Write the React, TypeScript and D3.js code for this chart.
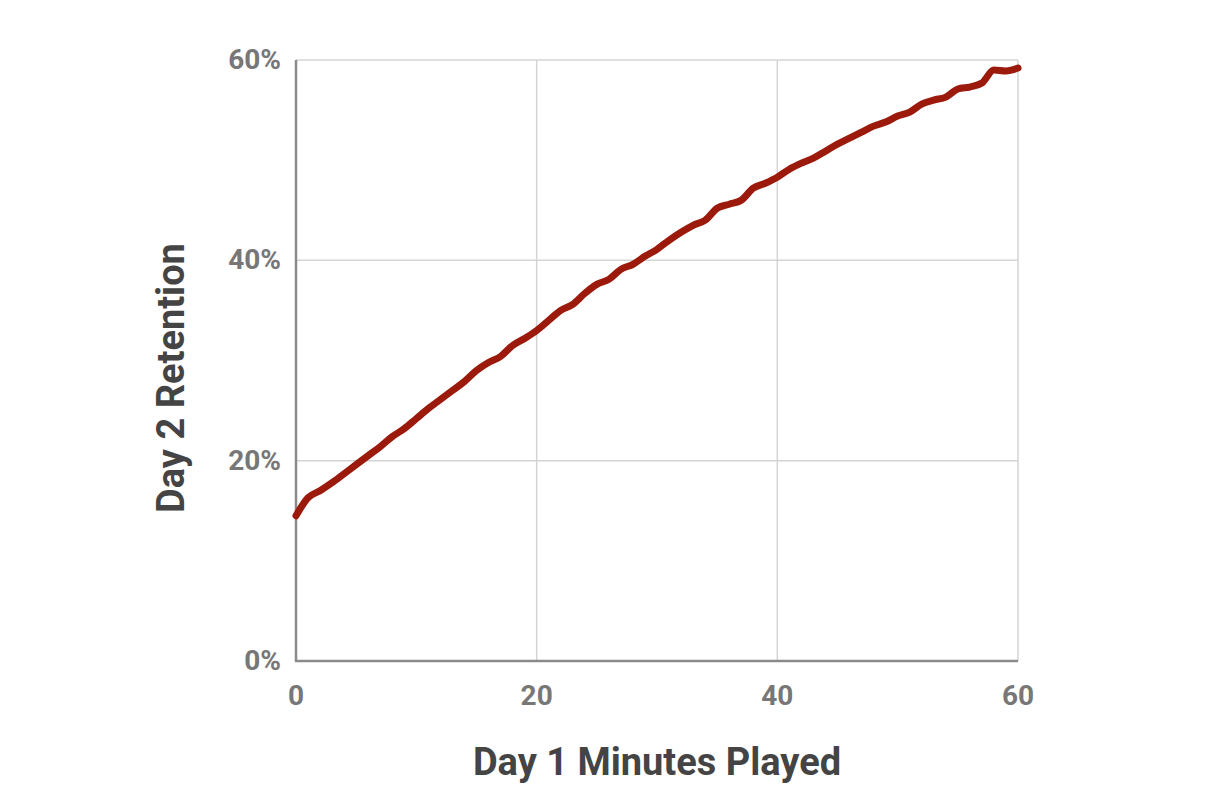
import React from "react";
import * as d3 from "d3";

const minutes: number[] = Array.from({ length: 61 }, (_, i) => i);
const retention: number[] = [
  14.5, 16.3, 17.0, 17.8, 18.7, 19.6, 20.5, 21.4, 22.4, 23.2,
  24.2, 25.2, 26.1, 27.0, 27.9, 29.0, 29.8, 30.4, 31.5, 32.2,
  33.0, 34.0, 35.0, 35.6, 36.7, 37.6, 38.1, 39.1, 39.6, 40.4,
  41.1, 42.0, 42.8, 43.5, 44.0, 45.2, 45.6, 46.0, 47.2, 47.7,
  48.3, 49.1, 49.7, 50.2, 50.9, 51.6, 52.2, 52.8, 53.4, 53.8,
  54.4, 54.8, 55.6, 56.0, 56.3, 57.1, 57.3, 57.7, 59.0, 58.9,
  59.2,
];
const xTicks: number[] = [0, 20, 40, 60];
const yTicks: number[] = [0, 20, 40, 60];
const xTitle = "Day 1 Minutes Played";
const yTitle = "Day 2 Retention";

export default function App() {
  const W = 1230, H = 790;
  const x = d3.scaleLinear().domain([0, 60]).range([296, 1018]);
  const y = d3.scaleLinear().domain([0, 60]).range([661, 60]);
  const line = d3
    .line<number>()
    .x((_, i) => x(minutes[i]))
    .y((d) => y(d))
    .curve(d3.curveMonotoneX);
  const font = "Roboto, 'Noto Sans', sans-serif";
  return (
    <svg
      width={W}
      height={H}
      style={{ position: "absolute", left: 0, top: 0, background: "#fff" }}
    >
      {/* gridlines */}
      {xTicks.map((t) => (
        <line key={"gx" + t} x1={x(t)} x2={x(t)} y1={y(60)} y2={y(0)} stroke="#d4d4d4" strokeWidth={1.5} />
      ))}
      {yTicks.map((t) => (
        <line key={"gy" + t} x1={x(0)} x2={x(60)} y1={y(t)} y2={y(t)} stroke="#d4d4d4" strokeWidth={1.5} />
      ))}
      {/* axes */}
      <line x1={x(0)} x2={x(0)} y1={y(60)} y2={y(0) + 1} stroke="#8a8a8a" strokeWidth={2.5} />
      <line x1={x(0) - 1} x2={x(60)} y1={y(0)} y2={y(0)} stroke="#8a8a8a" strokeWidth={2.5} />
      {/* data line */}
      <path d={line(retention) || ""} fill="none" stroke="#9b1a0c" strokeWidth={7} strokeLinejoin="round" strokeLinecap="round" />
      {/* tick labels */}
      {xTicks.map((t) => (
        <text key={"tx" + t} x={x(t)} y={705} textAnchor="middle" fontFamily={font} fontWeight={700} fontSize={28} fill="#777">
          {t}
        </text>
      ))}
      {yTicks.map((t) => (
        <text key={"ty" + t} x={281} y={y(t) + 9} textAnchor="end" fontFamily={font} fontWeight={700} fontSize={28} fill="#777">
          {t + "%"}
        </text>
      ))}
      {/* axis titles */}
      <text x={657} y={775} textAnchor="middle" fontFamily={font} fontWeight={700} fontSize={38} fill="#444">
        {xTitle}
      </text>
      <text
        transform={`translate(184,378) rotate(-90)`}
        textAnchor="middle"
        fontFamily={font}
        fontWeight={700}
        fontSize={38}
        fill="#444"
      >
        {yTitle}
      </text>
    </svg>
  );
}
